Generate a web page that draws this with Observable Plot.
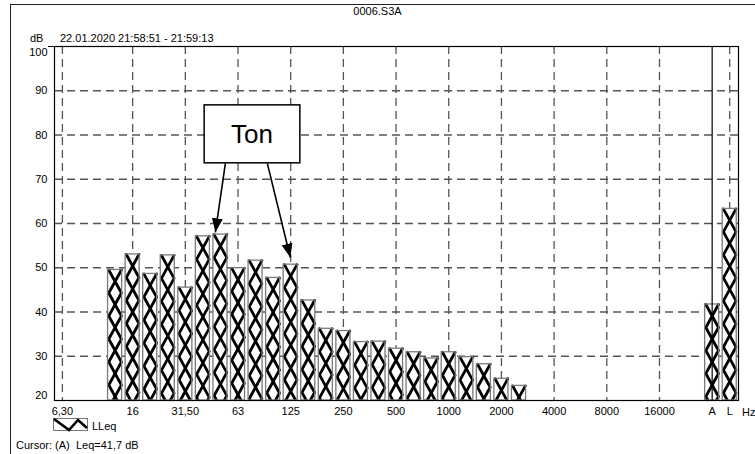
<!DOCTYPE html>
<html><head><meta charset="utf-8">
<script src="https://cdn.jsdelivr.net/npm/d3@7"></script>
<script src="https://cdn.jsdelivr.net/npm/@observablehq/plot@0.6"></script>
<style>
body{margin:0;background:#fff}
#wrap{position:relative;width:755px;height:454px;overflow:hidden;font-family:"Liberation Sans",Arial,sans-serif;font-size:11px;color:#000}
#wrap svg.plot{position:absolute;left:0;top:0}
.t{position:absolute;white-space:nowrap;line-height:13px}
.ln{position:absolute;background:#222}
</style></head>
<body>
<div id="wrap">
  <div id="chart"></div>
  <div class="ln" style="left:10px;top:4px;width:745px;height:1px"></div>
  <div class="ln" style="left:10px;top:4px;width:1px;height:450px"></div>
  <div class="ln" style="left:48px;top:46px;width:7px;height:1px;background:#000"></div>
  <div class="t" style="left:0;width:755px;text-align:center;top:5px">0006.S3A</div>
  <div class="t" style="left:30px;top:32px">dB</div>
  <div class="t" style="left:60px;top:32px">22.01.2020 21:58:51 - 21:59:13</div>
  <div class="t" style="left:742px;top:406px">Hz</div>
  <svg style="position:absolute;left:53px;top:418px" width="36" height="14">
    <rect x="0.5" y="0.5" width="34" height="12" fill="#fff" stroke="#777" stroke-width="1"/>
    <polyline points="1,1 16,12 25,2 34,10" fill="none" stroke="#000" stroke-width="2.6"/>
  </svg>
  <div class="t" style="left:92px;top:420px">LLeq</div>
  <div class="t" style="left:16px;top:439px">Cursor: (A)&nbsp; Leq=41,7 dB</div>
</div>
<script>
// Axis slots: one-third-octave bands, a gap, then the A and L totals
const slots = ["6,3","8","10","12,5","16","20","25","31,5","40","50","63","80","100","125","160","200","250","315","400","500","630","800","1000","1250","1600","2000","2500","3150","4000","5000","6300","8000","10000","12500","16000","20000","gap","A","L"];
// Measured bands and their LLeq values (dB)
const bands  = ["12,5","16","20","25","31,5","40","50","63","80","100","125","160","200","250","315","400","500","630","800","1000","1250","1600","2000","2500","A","L"];
const levels = [49.5,53.0,48.6,52.8,45.5,57.1,57.5,49.9,51.6,47.7,50.7,42.6,36.2,35.7,33.2,33.3,31.7,30.9,29.5,30.9,29.8,28.2,24.9,23.3,41.7,63.3];
// Tick labels on the frequency axis
const tickSlots  = ["6,3","16","31,5","63","125","250","500","1000","2000","4000","8000","16000","A","L"];
const tickLabels = ["6,30","16","31,50","63","125","250","500","1000","2000","4000","8000","16000","A","L"];
const yTicks = [20,30,40,50,60,70,80,90,100];
// Cursor band and the "Ton" annotation
const cursorBand = "A";
const tonLabel = "Ton";
const tonBands = ["50","125"];

const pos = s => slots.indexOf(s);
const bars = bands.map((b, i) => ({band: b, x: pos(b), v: levels[i]}));

// cross-hatch zigzag lines inside each bar, anchored at the bar top
const half = 5.2, w = 0.36, yMin = 20;
const hatch = [];
bars.forEach((d, j) => {
  for (const side of [0, 1]) {
    let k = 0;
    for (let y = d.v; ; y -= half, k++) {
      const left = (k + side) % 2 === 0;
      hatch.push({z: j * 2 + side, x: d.x + (left ? -w : w), y});
      if (y < yMin) break;
    }
  }
});

const tonX = tonBands.map(pos);
const tonV = tonBands.map(b => levels[bands.indexOf(b)]);
const boxCx = (tonX[0] + tonX[1]) / 2 - 0.2;
const box = [{x1: boxCx - 2.7, x2: boxCx + 2.75, y1: 73.6, y2: 86.7}];
const arrows = [
  {x1: tonX[0] + 0.28, y1: 73.6, x2: tonX[0] - 0.29, y2: tonV[0] + 0.5},
  {x1: tonX[1] - 1.33, y1: 73.6, x2: tonX[1] - 0.02, y2: tonV[1] + 1.6}
];

function filledArrow(color, context) {
  const ns = "http://www.w3.org/2000/svg";
  const doc = (context && context.document) || document;
  const m = doc.createElementNS(ns, "marker");
  m.setAttribute("viewBox", "-14 -6 14 12");
  m.setAttribute("markerUnits", "userSpaceOnUse");
  m.setAttribute("markerWidth", "14");
  m.setAttribute("markerHeight", "12");
  m.setAttribute("orient", "auto");
  m.setAttribute("refX", "0");
  m.setAttribute("refY", "0");
  const p = doc.createElementNS(ns, "path");
  p.setAttribute("d", "M-14,-5.5L0,0L-14,5.5Z");
  p.setAttribute("fill", "#000");
  p.setAttribute("stroke", "none");
  m.appendChild(p);
  return m;
}

function build(customMarker) {
  const arrowMark = customMarker
    ? Plot.link(arrows, {x1: "x1", y1: "y1", x2: "x2", y2: "y2", stroke: "#000", strokeWidth: 1.6, markerEnd: filledArrow})
    : Plot.arrow(arrows, {x1: "x1", y1: "y1", x2: "x2", y2: "y2", stroke: "#000", strokeWidth: 1.6, headLength: 13, headAngle: 45});
  return Plot.plot({
    width: 755, height: 454,
    marginTop: 46, marginBottom: 54, marginLeft: 54, marginRight: 17,
    style: {background: "transparent", fontFamily: "Liberation Sans, Arial, sans-serif", fontSize: "11px", color: "#000"},
    x: {type: "linear", domain: [-0.45, 38.5], axis: null},
    y: {domain: [20, 100], axis: null},
    marks: [
      Plot.ruleY(yTicks.filter(v => v > 20 && v < 100), {y: d => d, x1: -0.45, x2: 38.5, stroke: "#555", strokeWidth: 1.3, strokeDasharray: "8,5"}),
      Plot.ruleX(tickSlots.filter(s => s !== cursorBand), {x: pos, y1: 100, y2: 20, stroke: "#555", strokeWidth: 1.3, strokeDasharray: "8,5"}),
      Plot.rect(bars, {x1: d => d.x - 0.4, x2: d => d.x + 0.4, y1: 20, y2: "v", fill: "#fff"}),
      Plot.line(hatch, {x: "x", y: "y", z: "z", stroke: "#000", strokeWidth: 2.8, clip: true}),
      Plot.rect(bars, {x1: d => d.x - 0.4, x2: d => d.x + 0.4, y1: 20, y2: "v", fill: "none", stroke: "#7a7a7a", strokeWidth: 1.3}),
      Plot.ruleX([cursorBand], {x: pos, y1: 100, y2: 20, stroke: "#000", strokeWidth: 1.2}),
      Plot.frame({stroke: "#000", strokeWidth: 1.2}),
      Plot.axisX(tickSlots.map(pos), {tickSize: 0, tickPadding: 7, tickFormat: i => tickLabels[tickSlots.indexOf(slots[i])], fontSize: 11}),
      Plot.axisY(yTicks.filter(v => v > 20 && v < 100), {tickSize: 0, tickPadding: 7, fontSize: 11}),
      Plot.axisY([100], {tickSize: 0, tickPadding: 7, dy: 6, fontSize: 11}),
      Plot.axisY([20], {tickSize: 0, tickPadding: 7, dy: -5, fontSize: 11}),
      arrowMark,
      Plot.rect(box, {x1: "x1", x2: "x2", y1: "y1", y2: "y2", fill: "#fff", stroke: "#000", strokeWidth: 1.5}),
      Plot.text([tonLabel], {x: boxCx, y: (box[0].y1 + box[0].y2) / 2, text: d => d, fontSize: 26, fill: "#000"})
    ]
  });
}

let chart;
try { chart = build(true); } catch (e) { chart = build(false); }
chart.classList.add("plot");
document.getElementById("chart").appendChild(chart);
</script>
</body></html>
